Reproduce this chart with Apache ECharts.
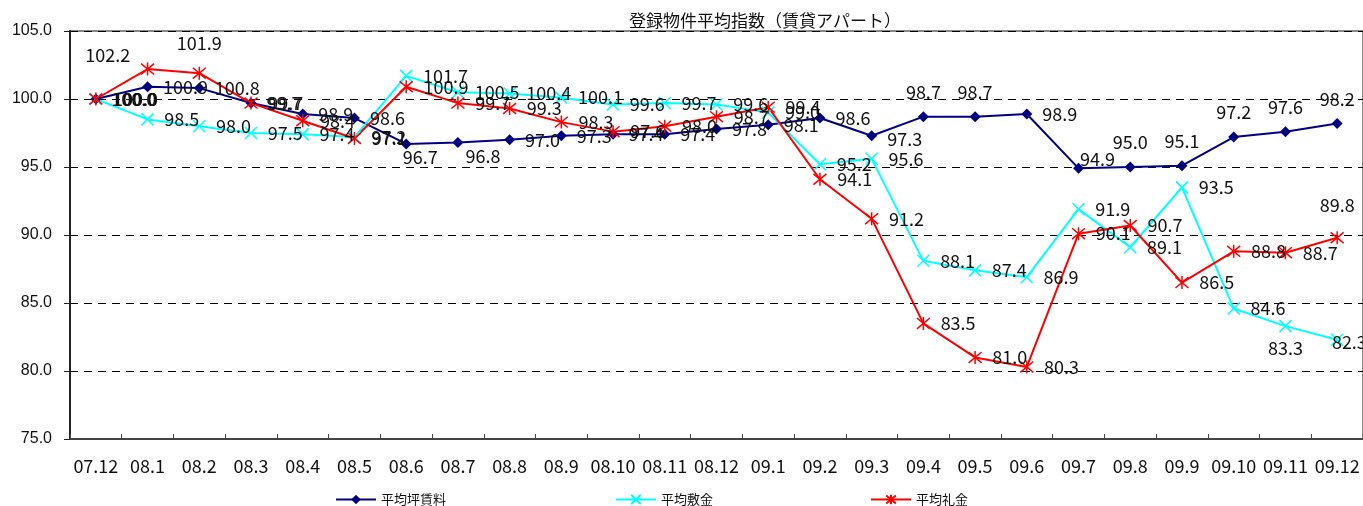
<!DOCTYPE html>
<html>
<head>
<meta charset="utf-8">
<script src="https://cdn.jsdelivr.net/npm/echarts@6/dist/echarts.min.js"></script>
<style>
  html, body { margin: 0; padding: 0; background: #fff; }
  #main { width: 1363px; height: 506px; }
</style>
</head>
<body>
<div id="main"></div>
<script>
// 月（横軸）
var months = ['07.12', '08.1', '08.2', '08.3', '08.4', '08.5', '08.6', '08.7', '08.8', '08.9', '08.10', '08.11', '08.12',
  '09.1', '09.2', '09.3', '09.4', '09.5', '09.6', '09.7', '09.8', '09.9', '09.10', '09.11', '09.12'];
// 平均坪賃料
var rentData = [100.0, 100.9, 100.8, 99.7, 98.9, 98.6, 96.7, 96.8, 97.0, 97.3, 97.4, 97.4, 97.8,
  98.1, 98.6, 97.3, 98.7, 98.7, 98.9, 94.9, 95.0, 95.1, 97.2, 97.6, 98.2];
// 平均敷金
var depositData = [100.0, 98.5, 98.0, 97.5, 97.4, 97.2, 101.7, 100.5, 100.4, 100.1, 99.6, 99.7, 99.6,
  99.0, 95.2, 95.6, 88.1, 87.4, 86.9, 91.9, 89.1, 93.5, 84.6, 83.3, 82.3];
// 平均礼金
var keyMoneyData = [100.0, 102.2, 101.9, 99.7, 98.4, 97.1, 100.9, 99.7, 99.3, 98.3, 97.6, 98.0, 98.7,
  99.4, 94.1, 91.2, 83.5, 81.0, 80.3, 90.1, 90.7, 86.5, 88.8, 88.7, 89.8];
var seriesNames = ['平均坪賃料', '平均敷金', '平均礼金'];

var numFont = "'Liberation Sans Narrow', 'Noto Sans CJK JP', sans-serif";
var jpFont = "'Noto Sans CJK JP', sans-serif";
var crossPath = 'path://M0,0 L10,10 M10,0 L0,10';
var starPath = 'path://M0,0 L10,10 M10,0 L0,10 M5,-1 L5,11';

// ラベル位置の個別指定（index: [position, offset]）
var rentLabelPos = {
  6: ['bottom', [14, -11]], 7: ['bottom', [25, -11]],
  15: ['right', [0, 3]],
  16: ['top', [0, 0]], 17: ['top', [0, 0]], 19: ['right', [-14, -9]],
  20: ['top', [0, 0]], 21: ['top', [0, 0]], 22: ['top', [0, 0]], 23: ['top', [0, 0]], 24: ['top', [0, 0]]
};
var depositLabelPos = {23: ['bottom', [0, -4]], 24: ['right', [-22, 2]]};
var keyLabelPos = {1: ['left', [0, -14]], 2: ['top', [0, -4]], 24: ['top', [0, -6]]};

function buildData(values, posMap) {
  return values.map(function (v, i) {
    var item = { value: v };
    if (posMap[i]) {
      item.label = { position: posMap[i][0], offset: posMap[i][1] };
    }
    return item;
  });
}

var labelBase = {
  show: true,
  position: 'right',
  distance: 10,
  color: '#111',
  fontSize: 18,
  fontFamily: numFont,
  formatter: function (p) { return p.value.toFixed(1); }
};

function legendAt(name, x) {
  return {
    data: [name], left: x, top: 488, itemWidth: 40, itemHeight: 12, itemGap: 4,
    textStyle: { fontSize: 13, color: '#111', fontFamily: jpFont }
  };
}

var myChart = echarts.init(document.getElementById('main'));
var option = {
  backgroundColor: '#fff',
  animation: false,
  title: {
    text: '登録物件平均指数（賃貸アパート）',
    left: 624,
    top: 7,
    textStyle: { fontSize: 17, fontWeight: 'normal', color: '#111', fontFamily: jpFont }
  },
  legend: [legendAt(seriesNames[0], 330), legendAt(seriesNames[1], 610), legendAt(seriesNames[2], 865)],
  grid: {
    left: 70, right: 0, top: 31, bottom: 67,
    show: true, borderColor: '#888', borderWidth: 2, backgroundColor: '#fff'
  },
  xAxis: {
    type: 'category',
    data: months,
    boundaryGap: true,
    axisLine: { lineStyle: { color: '#444', width: 2 } },
    axisTick: { show: true, inside: true, length: 5, lineStyle: { color: '#444' } },
    axisLabel: { color: '#111', fontSize: 18, margin: 18, fontFamily: numFont, interval: 0 }
  },
  yAxis: {
    type: 'value',
    min: 75,
    max: 105,
    interval: 5,
    axisLine: { show: true, lineStyle: { color: '#222', width: 2 } },
    axisTick: { show: true, inside: false, length: 6, lineStyle: { color: '#222' } },
    axisLabel: { color: '#111', fontSize: 16, margin: 18, fontFamily: "'Liberation Sans', sans-serif",
      formatter: function (v) { return v.toFixed(1); } },
    splitLine: { show: true, lineStyle: { color: '#000', type: [8, 6], width: 1 } }
  },
  series: [
    {
      name: seriesNames[0],
      type: 'line',
      data: buildData(rentData, rentLabelPos),
      symbol: 'diamond',
      symbolSize: 11,
      lineStyle: { color: '#000080', width: 2 },
      itemStyle: { color: '#000080' },
      label: labelBase
    },
    {
      name: seriesNames[1],
      type: 'line',
      data: buildData(depositData, depositLabelPos),
      symbol: crossPath,
      symbolSize: 12,
      lineStyle: { color: '#00FFFF', width: 2 },
      itemStyle: { color: '#00FFFF', borderColor: '#00FFFF', borderWidth: 1.5 },
      label: labelBase
    },
    {
      name: seriesNames[2],
      type: 'line',
      data: buildData(keyMoneyData, keyLabelPos),
      symbol: starPath,
      symbolSize: 13,
      lineStyle: { color: '#FF0000', width: 2 },
      itemStyle: { color: '#FF0000', borderColor: '#FF0000', borderWidth: 1.5 },
      label: labelBase
    }
  ]
};
myChart.setOption(option);
</script>
</body>
</html>
